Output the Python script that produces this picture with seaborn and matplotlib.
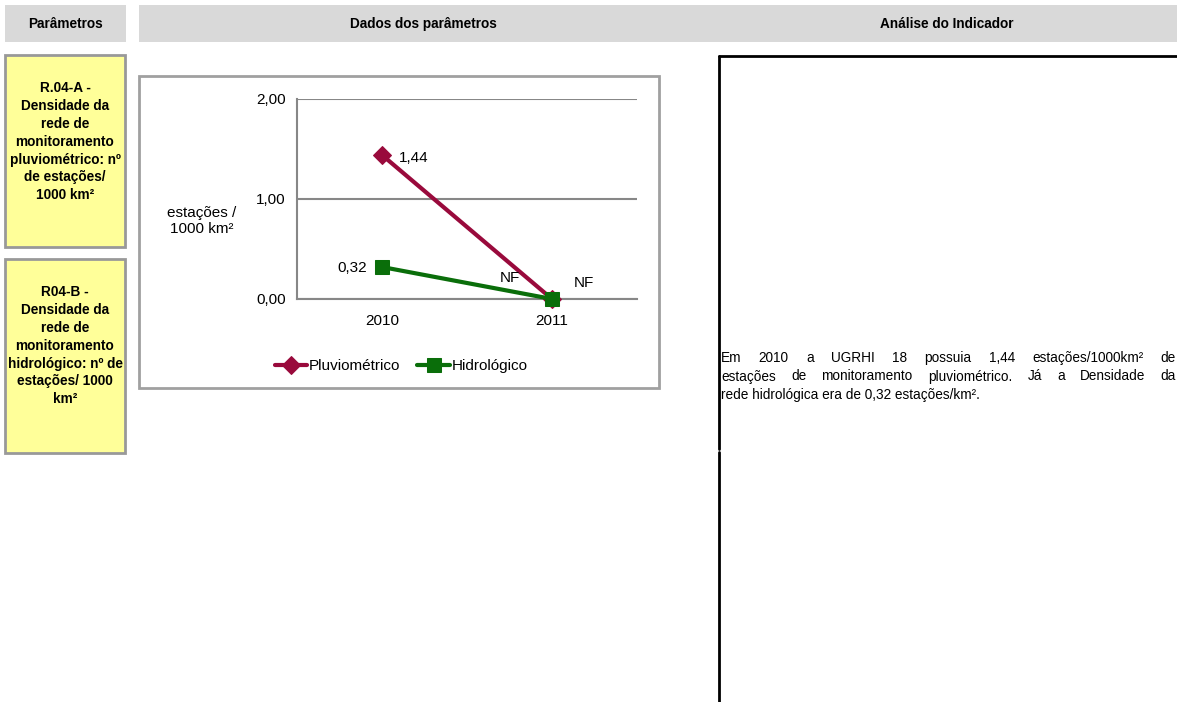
import pandas as pd
import matplotlib.pyplot as plt
import seaborn as sns
from matplotlib.patches import Rectangle

# dados do grafico
anos = ["2010", "2011"]
pluviometrico = [1.44, 0.0]
hidrologico = [0.32, 0.0]
rotulos_pluv = ["1,44", "NF"]
rotulos_hidro = ["0,32", "NF"]
yticks = [0.0, 1.0, 2.0]
ytick_labels = ["0,00", "1,00", "2,00"]

texto_a = ["R.04-A -", "Densidade da", "rede de", "monitoramento",
           "pluviométrico: nº", "de estações/", "1000 km²"]
texto_b = ["R04-B -", "Densidade da", "rede de", "monitoramento",
           "hidrológico: nº de", "estações/ 1000", "km²"]
analise = ["Em 2010 a UGRHI 18 possuia 1,44 estações/1000km² de",
           "estações de monitoramento pluviométrico. Já a Densidade da",
           "rede hidrológica era de 0,32 estações/km²."]

cor_pluv = "#990a3c"
cor_hidro = "#0a6e0a"
cinza = "#878787"

sns.set_style("white")
plt.rcParams["font.family"] = ["Liberation Sans", "DejaVu Sans"]
plt.rcParams["text.color"] = "black"
plt.rcParams["xtick.labelcolor"] = "black"
plt.rcParams["ytick.labelcolor"] = "black"

W, H = 1177, 702
fig = plt.figure(figsize=(W / 100, H / 100), dpi=100)
bg = fig.add_axes([0, 0, 1, 1])
bg.set_xlim(0, W)
bg.set_ylim(H, 0)
bg.axis("off")

# cabecalhos
bg.add_patch(Rectangle((5, 5), 121, 37, facecolor="#d9d9d9", edgecolor="none"))
bg.add_patch(Rectangle((139, 5), W - 139, 37, facecolor="#d9d9d9", edgecolor="none"))
bg.text(65, 24, "Parâmetros", ha="center", va="center", fontsize=9.8, weight="bold")
bg.text(423, 24, "Dados dos parâmetros", ha="center", va="center", fontsize=9.8, weight="bold")
bg.text(947, 24, "Análise do Indicador", ha="center", va="center", fontsize=9.8, weight="bold")

# caixas amarelas
for (y0, y1), linhas in [((55, 247), texto_a), ((259, 453), texto_b)]:
    bg.add_patch(Rectangle((5, y0), 120, y1 - y0, facecolor="#ffff99",
                           edgecolor="#999999", lw=2))
    for i, t in enumerate(linhas):
        bg.text(65, 88 + (y0 - 55) + i * 17.9, t, ha="center", va="center",
                fontsize=9.8, weight="bold")

# moldura do grafico
bg.add_patch(Rectangle((139, 76), 520, 312, facecolor="white", edgecolor="#a0a0a0", lw=2))

# painel da analise
bg.plot([719, W], [56, 56], color="black", lw=2)
bg.plot([719, 719], [56, 449], color="black", lw=2)
bg.plot([719, 719], [452, H], color="black", lw=2)

fig.canvas.draw()
renderer = fig.canvas.get_renderer()
fs = 9.8
x0, x1 = 721, 1176
for i, linha in enumerate(analise):
    y = 362 + i * 18.5
    if i == len(analise) - 1:
        bg.text(x0, y, linha, ha="left", va="baseline", fontsize=fs)
        continue
    palavras = linha.split(" ")
    objs = [bg.text(0, y, p, ha="left", va="baseline", fontsize=fs) for p in palavras]
    larguras = [o.get_window_extent(renderer).width for o in objs]
    espaco = (x1 - x0 - sum(larguras)) / (len(palavras) - 1)
    x = x0
    for o, w in zip(objs, larguras):
        o.set_x(x)
        x += w + espaco

# grafico
fsg = 11
ax = fig.add_axes([297 / W, (H - 299) / H, 340 / W, 200 / H])
df = pd.DataFrame({"ano": anos, "Pluviométrico": pluviometrico, "Hidrológico": hidrologico})
sns.lineplot(data=df, x="ano", y="Pluviométrico", ax=ax, color=cor_pluv, lw=3.0,
             marker="D", markersize=9.5, markeredgecolor=cor_pluv, label="Pluviométrico",
             clip_on=False, zorder=3)
sns.lineplot(data=df, x="ano", y="Hidrológico", ax=ax, color=cor_hidro, lw=3.0,
             marker="s", markersize=10, markeredgecolor=cor_hidro, label="Hidrológico",
             clip_on=False, zorder=4)
ax.set_xlim(-0.5, 1.5)
ax.set_ylim(0, 2)
ax.set_yticks(yticks)
ax.set_yticklabels(ytick_labels, fontsize=fsg)
ax.set_xticks([0, 1])
ax.set_xticklabels(anos, fontsize=fsg)
ax.set_xticks([-0.5, 0.5, 1.5], minor=True)
ax.tick_params(axis="x", which="major", length=0, pad=11)
ax.tick_params(axis="x", which="minor", length=5, color=cinza, width=1.5, direction="out")
ax.tick_params(axis="y", length=5, color=cinza, width=1.5, direction="out", pad=3)
ax.set_xlabel("")
ax.set_ylabel("")
ax.set_facecolor("none")
for s in ["top", "right"]:
    ax.spines[s].set_visible(False)
for s in ["left", "bottom"]:
    ax.spines[s].set_color(cinza)
    ax.spines[s].set_linewidth(1.5)
ax.set_axisbelow(True)
ax.yaxis.grid(True, color=cinza, lw=1.5)
ax.xaxis.grid(False)

for i, (v, r) in enumerate(zip(pluviometrico, rotulos_pluv)):
    off = (17, -3) if i == 0 else (-42, 21)
    ax.annotate(r, (i, v), xytext=off, textcoords="offset pixels",
                ha="left" if i == 0 else "center", va="center", fontsize=fsg)
for i, (v, r) in enumerate(zip(hidrologico, rotulos_hidro)):
    off = (-15, -1) if i == 0 else (32, 16)
    ax.annotate(r, (i, v), xytext=off, textcoords="offset pixels",
                ha="right" if i == 0 else "center", va="center", fontsize=fsg)

bg.text(202, 221, "estações /\n1000 km²", ha="center", va="center", fontsize=fsg,
        linespacing=1.15)

ax.legend(loc="center", bbox_to_anchor=(401 / W, (H - 366) / H),
          bbox_transform=fig.transFigure, ncol=2, frameon=False, fontsize=fsg,
          handlelength=2.15, handletextpad=0.1, columnspacing=1.1)

fig.savefig("out.png", dpi=100)
